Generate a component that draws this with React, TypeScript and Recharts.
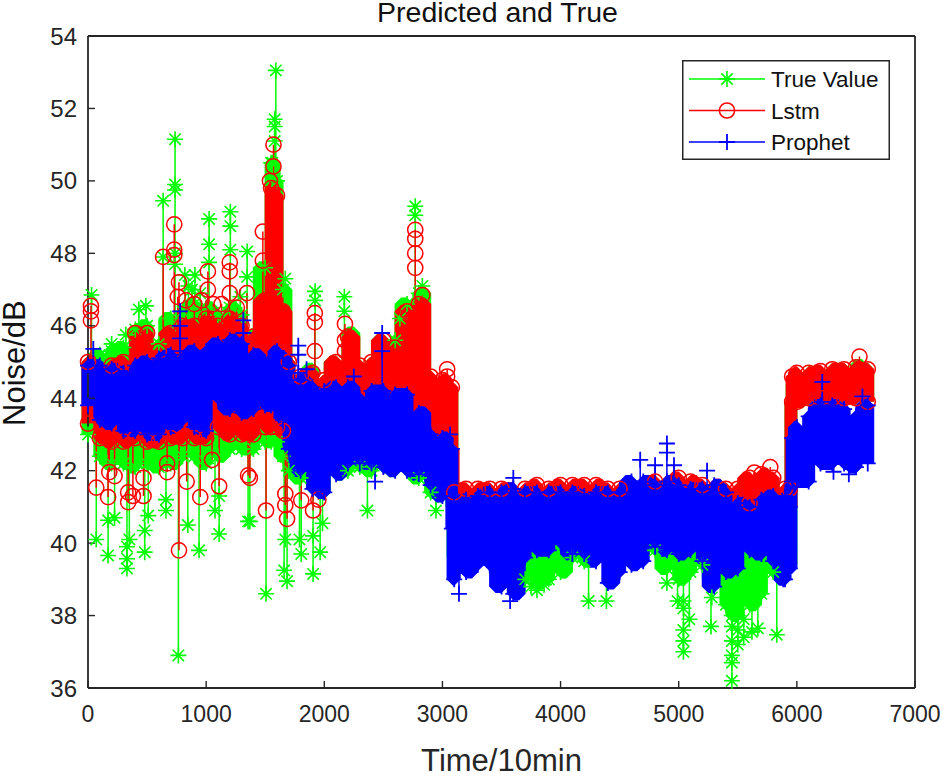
import { ComposedChart, Legend, Line, XAxis, YAxis } from "recharts";

const GREEN = "#00ff00";
const RED = "#ff0000";
const BLUE = "#0000ff";
const INK = "#262626";
const FONT = "'Liberation Sans', Arial, sans-serif";

const xTicks = [0, 1000, 2000, 3000, 4000, 5000, 6000, 7000];
const yTicks = [36, 38, 40, 42, 44, 46, 48, 50, 52, 54];

// where the bulk of each series sits, read column by column
const times = [
  0, 100, 200, 300, 400, 500, 600, 700, 800, 900, 1000, 1100, 1200, 1300, 1400, 1500, 1550, 1600, 1650,
  1700, 1800, 1900, 2000, 2100, 2200, 2300, 2400, 2500, 2600, 2700, 2800, 2900, 3000, 3080, 3100,
  3200, 3300, 3400, 3500, 3600, 3700, 3800, 3900, 4000, 4100, 4200, 4300, 4400, 4500, 4600, 4700, 4800,
  4900, 5000, 5100, 5200, 5300, 5400, 5500, 5600, 5700, 5800, 5900, 5940, 5960,
  6000, 6100, 6200, 6300, 6400, 6500, 6600,
];

const trueLow = [
  43.0, 42.4, 42.2, 42.2, 42.1, 42.2, 42.1, 42.2, 42.4, 42.4, 42.2, 42.4, 42.6, 42.6, 42.6, 42.8, 42.8, 42.8, 42.4,
  42.0, 41.8, 41.5, 41.4, 41.9, 42.0, 42.1, 42.0, 42.1, 42.0, 42.0, 41.8, 41.4, 41.3, 41.0, 39.6,
  39.4, 39.5, 39.6, 39.4, 39.2, 39.0, 38.9, 39.0, 39.2, 39.6, 39.5, 39.6, 39.5, 39.5, 39.5, 39.7, 39.8,
  39.3, 39.0, 39.2, 39.4, 39.0, 38.3, 38.0, 38.3, 38.6, 39.2, 39.4, 39.4, 43.9,
  43.9, 44.0, 44.0, 44.0, 44.0, 44.0, 43.9,
];
const trueHigh = [
  45.0, 45.2, 45.3, 45.4, 45.9, 46.0, 45.5, 46.2, 46.4, 46.6, 46.5, 46.3, 46.5, 46.3, 45.8, 47.6, 50.5, 50.0, 47.0,
  45.0, 44.6, 44.8, 44.5, 45.0, 45.8, 44.9, 45.0, 45.6, 45.6, 46.6, 46.9, 44.5, 44.4, 44.2, 41.3,
  41.4, 41.4, 41.4, 41.4, 41.4, 41.4, 41.4, 41.4, 41.5, 41.5, 41.5, 41.5, 41.4, 41.4, 41.5, 41.6, 41.6,
  41.6, 41.7, 41.6, 41.5, 41.5, 41.4, 41.4, 41.7, 41.8, 41.7, 41.4, 41.4, 44.4,
  44.6, 44.7, 44.7, 44.8, 44.8, 44.9, 44.8,
];
const lstmLow = [
  43.3, 42.9, 42.8, 42.8, 42.9, 42.8, 42.8, 42.9, 42.9, 42.9, 42.9, 43.2, 43.0, 43.0, 43.0, 43.2, 43.2, 43.2, 43.1,
  43.0, 42.8, 42.8, 42.9, 43.0, 43.2, 43.2, 43.2, 43.2, 43.2, 43.2, 42.9, 42.6, 42.5, 42.6, 41.0,
  41.0, 41.1, 41.1, 41.1, 41.1, 41.1, 41.1, 41.0, 41.1, 41.1, 41.1, 41.1, 41.1, 41.1, 41.1, 41.1, 41.2,
  41.2, 41.2, 41.1, 41.1, 41.0, 41.0, 41.0, 41.1, 41.1, 41.1, 41.0, 41.0, 43.9,
  43.9, 44.0, 44.0, 44.0, 44.0, 44.0, 43.9,
];
const lstmHigh = [
  45.0, 44.9, 44.9, 45.0, 45.8, 45.8, 45.3, 45.8, 46.0, 46.0, 46.2, 46.0, 46.2, 46.0, 45.7, 46.7, 49.8, 49.6, 46.4,
  45.0, 44.6, 44.7, 44.5, 45.0, 45.7, 44.9, 45.0, 45.6, 45.4, 46.4, 46.6, 44.6, 44.5, 44.3, 41.4,
  41.5, 41.5, 41.5, 41.5, 41.5, 41.5, 41.6, 41.5, 41.6, 41.6, 41.6, 41.6, 41.5, 41.5, 41.6, 41.7, 41.7,
  41.7, 41.8, 41.7, 41.6, 41.6, 41.5, 41.5, 41.8, 41.9, 41.8, 41.5, 41.5, 44.6,
  44.7, 44.7, 44.75, 44.8, 44.8, 44.85, 44.8,
];
const prophetLow = [
  43.8, 43.4, 43.3, 43.1, 43.1, 43.0, 43.0, 43.2, 43.4, 43.2, 43.1, 44.0, 43.7, 43.6, 43.7, 43.8, 43.8, 43.7, 43.4,
  42.6, 42.0, 41.5, 41.4, 41.9, 42.2, 42.2, 42.2, 42.1, 42.0, 42.0, 41.9, 41.6, 41.3, 40.4, 39.0,
  39.2, 39.4, 39.4, 38.8, 38.6, 39.6, 39.8, 39.8, 40.0, 39.7, 39.7, 39.5, 38.9, 39.2, 39.4, 39.5, 39.9,
  39.8, 39.7, 39.8, 39.5, 38.8, 39.2, 39.3, 39.8, 39.7, 39.5, 39.0, 39.3, 41.7,
  41.7, 41.7, 42.2, 42.2, 42.2, 42.1, 42.2,
];
const prophetHigh = [
  44.9, 44.9, 44.8, 44.7, 44.9, 45.0, 45.1, 45.2, 45.1, 45.3, 45.3, 45.5, 45.6, 45.5, 45.2, 45.0, 45.1, 45.3, 45.1,
  44.9, 44.5, 44.3, 44.2, 44.3, 44.3, 44.0, 44.2, 44.2, 44.1, 44.1, 43.6, 43.0, 42.9, 42.6, 41.0,
  41.2, 41.3, 41.4, 41.4, 41.5, 41.4, 41.4, 41.4, 41.4, 41.4, 41.3, 41.4, 41.4, 41.4, 41.7, 41.7, 41.6,
  41.7, 41.6, 41.5, 41.5, 41.6, 41.4, 41.1, 41.0, 41.2, 41.3, 41.3, 41.0, 42.9,
  43.2, 43.5, 43.8, 43.8, 43.7, 43.5, 43.8,
];

// single excursions out of the bulk: [time, value inside the bulk, ...excursions]
const trueSpikes = [
  [30, 44, 46.85], [70, 44, 40.1], [170, 44, 39.66, 40.63], [200, 44, 45.5], [225, 44, 40.7],
  [320, 44, 45.75], [330, 44, 39.3, 39.57, 39.9], [350, 44, 40.1], [430, 44, 46.45], [480, 44, 39.75, 40.35],
  [490, 44, 46.55], [510, 44, 40.76], [540, 44, 45.75], [636, 44, 47.9, 49.45], [660, 44, 40.9, 41.2],
  [737, 44, 47.7, 48.0, 49.75, 49.9, 51.15], [765, 44, 36.9], [820, 44, 47.4], [845, 44, 40.5], [850, 44, 47.1],
  [880, 44, 47.0], [905, 44, 47.4], [940, 44, 39.8], [950, 44, 46.9], [1025, 44, 47.75, 48.25, 48.95], [1075, 44, 40.9],
  [1110, 44, 40.25, 41.3], [1205, 44, 48.1, 48.75, 49.15], [1290, 44, 46.8], [1347, 44, 47.35, 48.05], [1355, 44, 40.6],
  [1370, 44, 40.6], [1507, 44, 38.6], [1530, 46, 49.1, 49.8], [1560, 46, 50.1, 50.5], [1580, 46, 51.1, 51.5, 51.7],
  [1590, 46, 53.05], [1660, 44, 39.25], [1670, 44, 40.1, 47.3], [1685, 44, 38.95], [1790, 44, 40.1], [1805, 44, 39.7],
  [1905, 44, 39.15, 40.2], [1922, 44, 46.7, 46.95], [1965, 44, 39.75], [1985, 44, 40.55], [2170, 44, 46.4, 46.8],
  [2230, 44, 45.75], [2365, 43, 40.9], [2640, 44, 46.2], [2770, 44, 49.05, 49.3], [2830, 44, 47.1],
  [2945, 43, 40.9], [3050, 43, 40.8], [3095, 43, 40.75],
  [3750, 40, 38.8], [3800, 40, 38.7], [3860, 40, 38.85], [4237, 40, 38.4], [4388, 40, 38.4], [4900, 40, 38.9],
  [4990, 40, 38.4], [5040, 40, 38.4, 38.2, 37.6, 37.3, 37.0], [5090, 40, 37.9], [5273, 40, 37.7], [5280, 40, 38.5],
  [5450, 40, 38.0, 37.7, 37.3, 36.9, 36.7, 36.2], [5500, 40, 37.6, 37.2], [5550, 40, 37.4, 37.9], [5620, 40, 37.55],
  [5670, 40, 37.65], [5830, 40, 37.47],
];
const lstmSpikes = [
  [25, 44, 46.15, 46.4, 46.55], [70, 44, 41.53], [170, 44, 41.27], [180, 44, 41.96], [225, 44, 41.85],
  [340, 44, 41.13, 41.4], [380, 44, 41.3], [470, 44, 41.3, 41.8], [636, 44, 47.9], [670, 44, 41.96, 42.2],
  [730, 44, 47.95, 48.1, 48.8], [760, 44, 46.8], [770, 44, 39.8, 47.2], [830, 44, 46.7], [835, 44, 41.7], [900, 44, 46.6],
  [950, 44, 41.27], [960, 44, 46.7], [1015, 44, 47.0, 47.5], [1050, 44, 42.3], [1060, 44, 46.6], [1110, 44, 41.57],
  [1130, 44, 46.6], [1200, 44, 46.9, 47.5, 47.75], [1260, 44, 46.5], [1345, 44, 46.9], [1355, 44, 41.87], [1370, 44, 41.8],
  [1480, 46, 47.8, 48.6], [1507, 44, 40.9], [1540, 46, 50.0], [1570, 46, 50.4, 51.0], [1670, 44, 41.05, 41.36], [1685, 44, 40.67],
  [1805, 44, 41.18], [1905, 44, 40.9], [1920, 44, 45.3, 46.1, 46.35], [1950, 44, 41.2], [2175, 44, 45.3, 45.6, 46.05],
  [2770, 44, 47.6, 48.0, 48.4, 48.65], [2830, 44, 46.85], [3040, 44, 44.6, 44.8], [5640, 41, 41.95], [5775, 41, 42.1],
  [6530, 44.2, 45.15], [6590, 44.2, 43.45],
];
const prophetSpikes = [
  [45, 44, 45.36], [780, 44, 45.3, 45.65, 46.0, 46.4], [1315, 44, 45.8, 46.15], [1780, 44, 44.7, 45.2, 45.45],
  [1850, 44, 44.8], [2250, 44, 44.6], [2430, 43, 41.7], [2490, 44, 45.3, 45.8], [3065, 42, 43.0],
  [3140, 40, 38.6], [3573, 40, 38.4], [3600, 40, 41.8], [4674, 40, 42.3], [4800, 40, 42.15],
  [4900, 40, 42.5, 42.75], [4960, 40, 42.15], [5240, 40, 42.0], [5885, 40, 39.0],
  [6215, 43, 43.9, 44.45], [6310, 43, 41.97], [6440, 43, 41.9], [6555, 43, 44.05],
];

// the overplotted mass: up one column, down the next
function buildMass(low: number[], high: number[]) {
  return times.flatMap((t, i) =>
    i % 2 === 0
      ? [{ t, v: low[i] }, { t, v: high[i] }]
      : [{ t, v: high[i] }, { t, v: low[i] }]
  );
}

const nearestColumn = (t: number) =>
  times.reduce((best, c, i) => (Math.abs(c - t) < Math.abs(times[best] - t) ? i : best), 0);

// one pen path through the column edges and the excursions, in time order.
// a marker that a later series would bury gets no dot, since dots all paint above the lines
function buildPath(low: number[], high: number[], spikes: number[][], covers: number[][][]) {
  const buried = (t: number, v: number) => {
    const i = nearestColumn(t);
    return covers.some(([lo, hi]) => v > lo[i] - 0.1 && v < hi[i] + 0.1);
  };
  const rows: { t: number; vs: number[]; inside?: number }[] = times.map((t, i) => ({ t, vs: [low[i], high[i]] }));
  spikes.forEach(([t, inside, ...rest]) => rows.push({ t, vs: rest, inside }));
  rows.sort((a, b) => a.t - b.t);
  return rows.flatMap((r) => {
    const marked = r.vs.map((v) => ({ t: r.t, v, pen: buried(r.t, v) }));
    if (r.inside === undefined) return marked;
    const pen = { t: r.t, v: r.inside, pen: true };
    return [pen, ...marked, pen];
  });
}

const trueMass = buildMass(trueLow, trueHigh);
const lstmMass = buildMass(lstmLow, lstmHigh);
const prophetMass = buildMass(prophetLow, prophetHigh);
const truePath = buildPath(trueLow, trueHigh, trueSpikes, [[lstmLow, lstmHigh], [prophetLow, prophetHigh]]);
const lstmPath = buildPath(lstmLow, lstmHigh, lstmSpikes, [[prophetLow, prophetHigh]]);
const prophetPath = buildPath(prophetLow, prophetHigh, prophetSpikes, []);

const R = 8;

function Star({ cx, cy, w = 1.6 }: { cx: number; cy: number; w?: number }) {
  const d = R * 0.71;
  return (
    <path
      d={`M${cx - R} ${cy}H${cx + R}M${cx} ${cy - R}V${cy + R}M${cx - d} ${cy - d}L${cx + d} ${cy + d}M${cx - d} ${cy + d}L${cx + d} ${cy - d}`}
      stroke={GREEN}
      strokeWidth={w}
      fill="none"
    />
  );
}

function Ring({ cx, cy }: { cx: number; cy: number }) {
  return <circle cx={cx} cy={cy} r={7.6} stroke={RED} strokeWidth={1.5} fill="none" />;
}

function Plus({ cx, cy }: { cx: number; cy: number }) {
  return <path d={`M${cx - R} ${cy}H${cx + R}M${cx} ${cy - R}V${cy + R}`} stroke={BLUE} strokeWidth={1.8} fill="none" />;
}

const dotFor = (Marker: typeof Plus) => (p: any) =>
  p.payload.pen ? <g key={p.index} /> : <Marker key={p.index} cx={p.cx} cy={p.cy} />;

const legendRows = [
  { name: "True Value", color: GREEN, Marker: Star },
  { name: "Lstm", color: RED, Marker: Ring },
  { name: "Prophet", color: BLUE, Marker: Plus },
];

function MatlabLegend() {
  return (
    <svg width={208} height={100} style={{ display: "block", background: "#fff" }}>
      <rect x={0.75} y={0.75} width={206.5} height={98.5} fill="#fff" stroke={INK} strokeWidth={1.5} />
      {legendRows.map(({ name, color, Marker }, i) => {
        const y = 19 + i * 31.5;
        return (
          <g key={name}>
            <line x1={7} x2={83} y1={y} y2={y} stroke={color} strokeWidth={1.5} />
            <Marker cx={45} cy={y} />
            <text x={89} y={y + 8} fontSize={22.5} fontFamily={FONT} fill="#111">
              {name}
            </text>
          </g>
        );
      })}
    </svg>
  );
}

const axisLine = { stroke: INK, strokeWidth: 1.8 };
const tickLine = { stroke: INK, strokeWidth: 1.4 };
const blank = () => "";
const MASS_WIDTH = 13;

export default function App() {
  return (
    <div style={{ position: "absolute", left: 0, top: 0, background: "#fff" }}>
      <ComposedChart width={943} height={776} margin={{ top: 35, right: 27, bottom: 0, left: 28 }}>
        <XAxis
          dataKey="t"
          type="number"
          domain={[0, 7000]}
          ticks={xTicks}
          interval={0}
          height={88}
          tick={{ fontSize: 23, fontFamily: FONT, fill: INK }}
          axisLine={axisLine}
          tickLine={tickLine}
          tickSize={-7}
          tickMargin={25}
          label={{ value: "Time/10min", position: "insideBottom", offset: 5, fontSize: 31, fontFamily: FONT, fill: INK }}
        />
        <XAxis
          xAxisId="top"
          dataKey="t"
          type="number"
          orientation="top"
          domain={[0, 7000]}
          ticks={xTicks}
          interval={0}
          height={1}
          tickFormatter={blank}
          axisLine={axisLine}
          tickLine={tickLine}
          tickSize={-7}
          label={{ value: "Predicted and True", position: "top", offset: 13, dx: -4, fontSize: 28.5, fontFamily: FONT, fill: "#111" }}
        />
        <YAxis
          type="number"
          domain={[36, 54]}
          ticks={yTicks}
          interval={0}
          width={60}
          tick={{ fontSize: 24, fontFamily: FONT, fill: INK }}
          axisLine={axisLine}
          tickLine={tickLine}
          tickSize={-7}
          tickMargin={18}
          label={{ value: "Noise/dB", angle: -90, position: "insideLeft", offset: -14, dy: 64, fontSize: 31, fontFamily: FONT, fill: "#111" }}
        />
        <YAxis
          yAxisId="right"
          type="number"
          orientation="right"
          domain={[36, 54]}
          ticks={yTicks}
          interval={0}
          width={1}
          tickFormatter={blank}
          axisLine={axisLine}
          tickLine={tickLine}
          tickSize={-7}
        />
        <Line data={trueMass} dataKey="v" type="step" stroke={GREEN} strokeWidth={MASS_WIDTH} strokeLinejoin="bevel" dot={false} activeDot={false} isAnimationActive={false} />
        <Line data={truePath} dataKey="v" type="linear" stroke={GREEN} strokeWidth={1.5} dot={dotFor(Star)} activeDot={false} isAnimationActive={false} />
        <Line data={lstmMass} dataKey="v" type="step" stroke={RED} strokeWidth={MASS_WIDTH} strokeLinejoin="bevel" dot={false} activeDot={false} isAnimationActive={false} />
        <Line data={lstmPath} dataKey="v" type="linear" stroke={RED} strokeWidth={1.5} dot={dotFor(Ring)} activeDot={false} isAnimationActive={false} />
        <Line data={prophetMass} dataKey="v" type="step" stroke={BLUE} strokeWidth={MASS_WIDTH} strokeLinejoin="bevel" dot={false} activeDot={false} isAnimationActive={false} />
        <Line data={prophetPath} dataKey="v" type="linear" stroke={BLUE} strokeWidth={1.5} dot={dotFor(Plus)} activeDot={false} isAnimationActive={false} />
        <Legend
          layout="vertical"
          align="center"
          verticalAlign="middle"
          content={MatlabLegend}
          wrapperStyle={{ left: 682, top: 60, width: 208, height: 100, right: "auto", bottom: "auto", zIndex: 5 }}
        />
      </ComposedChart>
    </div>
  );
}
